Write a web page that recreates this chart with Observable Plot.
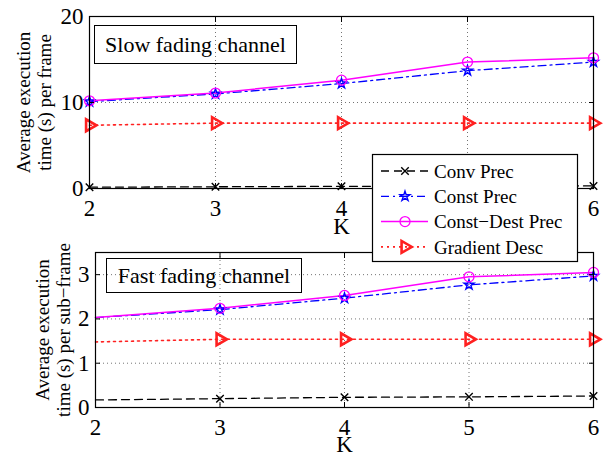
<!DOCTYPE html>
<html><head><meta charset="utf-8">
<script src="https://cdn.jsdelivr.net/npm/d3@7"></script>
<script src="https://cdn.jsdelivr.net/npm/@observablehq/plot@0.6"></script>
<style>
body{margin:0;background:#fff;}
#fig{position:relative;width:605px;height:464px;overflow:hidden;font-family:"Liberation Serif","Times New Roman",serif;background:#fff;}
#fig > svg{position:absolute;left:0;top:0;}
.tbox{position:absolute;border:1px solid #000;box-sizing:border-box;font-size:22px;display:flex;align-items:center;justify-content:center;white-space:nowrap;color:#000;}
</style></head><body><div id="fig"></div>
<script>
// ---- data ----
const K = [2, 3, 4, 5, 6];
const seriesNames = ["Conv Prec", "Const Prec", "Const\u2212Dest Prec", "Gradient Desc"];

const slowConv      = [0.15, 0.2, 0.25, 0.25, 0.3];
const slowConst     = [10.1, 11.0, 12.2, 13.7, 14.7];
const slowConstDest = [10.2, 11.1, 12.6, 14.7, 15.2];
const slowGrad      = [7.35, 7.6, 7.6, 7.6, 7.6];

const fastConv      = [0.17, 0.2, 0.23, 0.24, 0.26];
const fastConst     = [2.03, 2.21, 2.47, 2.77, 2.97];
const fastConstDest = [2.03, 2.24, 2.53, 2.95, 3.05];
const fastGrad      = [1.48, 1.54, 1.54, 1.54, 1.54];

const slowYTicks = [0, 10, 20];
const fastYTicks = [0, 1, 2, 3];
const panelTitles = ["Slow fading channel", "Fast fading channel"];
const yLabels = [["Average execution", "time (s) per frame"], ["Average execution", "time (s) per sub\u2212frame"]];
const xLabel = "K";

// ---- styles ----
const styles = [
  {stroke: "#000000", dash: "8,5", symbol: "times", r: 3.5, sw: 1.3, msw: 1.4, rotate: 0},
  {stroke: "#0000ff", dash: "8,4,2,4", symbol: "star", r: 3.1, sw: 1.3, msw: 1.4, rotate: 0},
  {stroke: "#ff00ff", dash: null, symbol: "circle", r: 5, sw: 1.5, msw: 1.3, rotate: 0},
  {stroke: "#ff2020", dash: "2,4", symbol: "triangle", r: 4.4, sw: 1.6, msw: 2.6, rotate: 90}
];

function rows(arrs) {
  return arrs.map((vals, s) => K.map((k, i) => ({k, v: vals[i], s})));
}

const fmt = d => String(d);

function panel(o) {
  const series = rows(o.values);
  const marks = [
    Plot.gridX(K.slice(1, -1), {stroke: "#000", strokeOpacity: 0.55, strokeDasharray: "1,3"}),
    Plot.gridY(o.yTicks.slice(1, o.yTicks[o.yTicks.length - 1] === o.yMax ? -1 : undefined), {stroke: "#000", strokeOpacity: 0.55, strokeDasharray: "1,3"}),
  ];
  series.forEach((data, s) => {
    const st = styles[s];
    marks.push(Plot.line(data, {x: "k", y: "v", stroke: st.stroke, strokeWidth: st.sw, strokeDasharray: st.dash}));
  });
  series.forEach((data, s) => {
    const st = styles[s];
    marks.push(Plot.dot(data.filter(d => d.k >= o.markFrom), {x: "k", y: "v", symbol: () => st.symbol, r: st.r, stroke: st.stroke, strokeWidth: st.msw, fill: "none", rotate: st.rotate}));
  });
  marks.push(
    Plot.frame({stroke: "#000", strokeWidth: 1.2}),
    Plot.axisX(K, {anchor: "bottom", tickSize: -5, tickFormat: () => "", label: null}),
    Plot.axisX(K, {anchor: "top", tickSize: -5, tickFormat: () => "", label: null}),
    Plot.axisY(o.yTicks, {anchor: "left", tickSize: -5, tickFormat: () => "", label: null}),
    Plot.axisY(o.yTicks, {anchor: "right", tickSize: -5, tickFormat: () => "", label: null}),
    Plot.axisX(K, {anchor: "bottom", tickSize: 0, tickPadding: 11, label: null, fontSize: 23, tickFormat: fmt}),
    Plot.axisY(o.yTicks, {anchor: "left", tickSize: 0, tickPadding: 6, label: null, fontSize: 23, tickFormat: fmt}),
    Plot.text([xLabel], {frameAnchor: "bottom", dy: o.kdy, fontSize: 23, fill: "#000"}),
    Plot.text([o.yLabel.join("\n")], {frameAnchor: "left", rotate: -90, dx: o.ydx, lineHeight: 1.1, fontSize: 19, textAnchor: "middle", fill: "#000"})
  );
  return Plot.plot({
    width: 605, height: 464,
    marginLeft: o.ml, marginRight: 12, marginTop: o.mt, marginBottom: o.mb,
    style: {background: "transparent", fontFamily: "'Liberation Serif', 'Times New Roman', serif", fontSize: "22px", color: "#000", overflow: "visible"},
    x: {domain: [2, 6]},
    y: {domain: [0, o.yMax]},
    marks
  });
}

const fig = document.getElementById("fig");
fig.append(panel({values: [slowConv, slowConst, slowConstDest, slowGrad], yTicks: slowYTicks, yMax: 20, ml: 89, mt: 16, mb: 276, kdy: 45, ydx: -56, yLabel: yLabels[0], markFrom: 2}));
fig.append(panel({values: [fastConv, fastConst, fastConstDest, fastGrad], yTicks: fastYTicks, yMax: 3.5, ml: 95, mt: 252, mb: 57, kdy: 44, ydx: -43, yLabel: yLabels[1], markFrom: 3}));

// panel title boxes
const boxes = [{l: 94, t: 25, w: 203, h: 39}, {l: 106, t: 258, w: 196, h: 35}];
boxes.forEach((b, i) => {
  const d = document.createElement("div");
  d.className = "tbox";
  Object.assign(d.style, {left: b.l + "px", top: b.t + "px", width: b.w + "px", height: b.h + "px"});
  d.textContent = panelTitles[i];
  fig.append(d);
});

// legend
const lg = d3.select(fig).append("svg").attr("width", 605).attr("height", 464).style("pointer-events", "none");
lg.append("rect").attr("x", 372.5).attr("y", 154.5).attr("width", 205).attr("height", 107).attr("fill", "#fff").attr("stroke", "#000").attr("stroke-width", 1.2);
const symMap = {times: d3.symbolTimes, star: d3.symbolStar, circle: d3.symbolCircle, triangle: d3.symbolTriangle};
seriesNames.forEach((name, i) => {
  const st = styles[i];
  const y = 171 + i * 25.3;
  lg.append("line").attr("x1", 381).attr("x2", 428).attr("y1", y).attr("y2", y)
    .attr("stroke", st.stroke).attr("stroke-width", st.sw).attr("stroke-dasharray", st.dash);
  lg.append("path").attr("d", d3.symbol(symMap[st.symbol], st.r * st.r * Math.PI)())
    .attr("transform", `translate(405,${y}) rotate(${st.rotate})`)
    .attr("fill", "none").attr("stroke", st.stroke).attr("stroke-width", st.msw);
  lg.append("text").attr("x", 434).attr("y", y).attr("dy", "0.35em")
    .attr("font-family", "'Liberation Serif', 'Times New Roman', serif").attr("font-size", 19).attr("fill", "#000").text(name);
});
</script></body></html>
